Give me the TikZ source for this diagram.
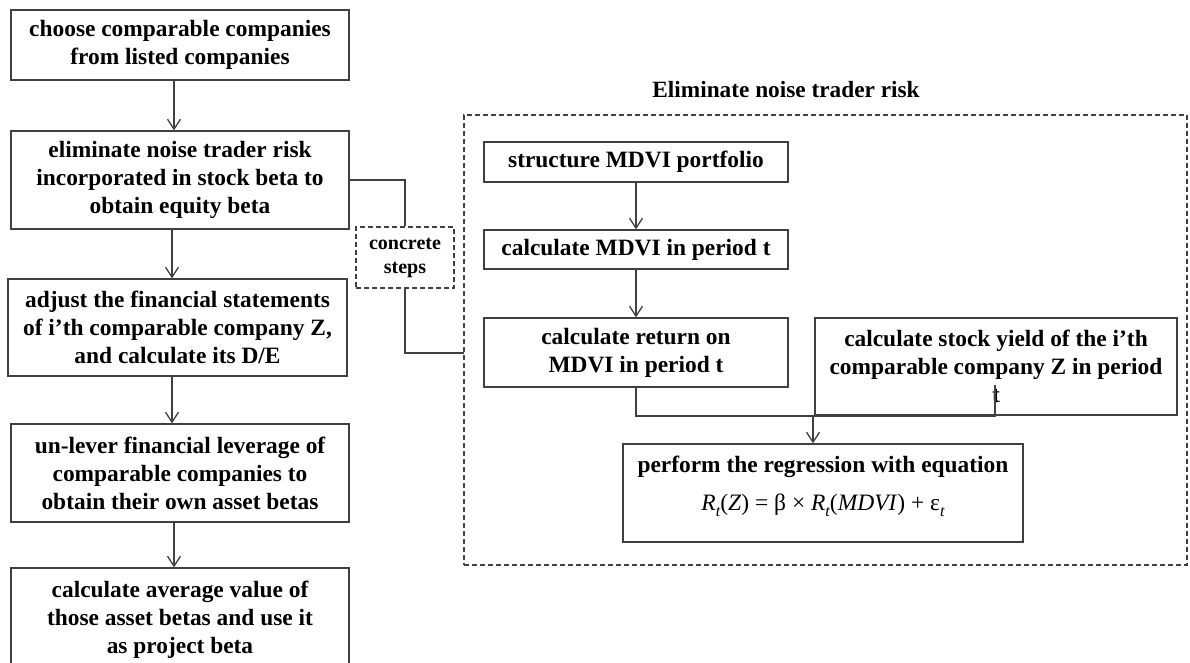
\documentclass[tikz,border=0pt]{standalone}
\usepackage{fontspec}
\setmainfont{Liberation Serif}
\usetikzlibrary{arrows.meta}
\newcommand{\mysubt}{\raisebox{-6pt}{\fontsize{16}{16}\selectfont\itshape t}}
\begin{document}
\begin{tikzpicture}[x=1pt,y=-1pt,
  line/.style={draw=black!75, line width=1.3pt},
  box/.style={line, rectangle, inner sep=0pt, align=center, font=\fontsize{23.4}{28}\selectfont\bfseries},
  dbox/.style={draw=black!75, line width=1.3pt, dash pattern=on 5pt off 3pt, rectangle, inner sep=0pt, align=center},
  arr/.style={line, -{Straight Barb[length=10pt,width=13pt,line width=1.3pt]}},
  conn/.style={line},
]
\useasboundingbox (0,0) rectangle (1190,663);
% left column
\node[box, minimum width=338, minimum height=70] (b1) at (180,45) {choose comparable companies\\from listed companies};
\node[box, minimum width=338, minimum height=98] (b2) at (180,180) {eliminate noise trader risk\\incorporated in stock beta to\\obtain equity beta};
\node[box, minimum width=339, minimum height=97] (b3) at (177.5,327.5) {adjust the financial statements\\of i’th comparable company Z,\\and calculate its D/E};
\node[box, minimum width=338, minimum height=98] (b4) at (180,473) {un-lever financial leverage of\\comparable companies to\\obtain their own asset betas};
\node[box, minimum width=338, minimum height=104] (b5) at (180,620) {calculate average value of\\those asset betas and use it\\as project beta};
\draw[arr] ([xshift=-6pt]b1.south) -- ([xshift=-6pt]b1.south |- b2.north);
\draw[arr] ([xshift=-8pt]b2.south) -- ([xshift=-8pt]b2.south |- b3.north);
\draw[arr] ([xshift=-8pt]b4.north |- b3.south) -- ([xshift=-8pt]b4.north);
\draw[arr] ([xshift=-6pt]b4.south) -- ([xshift=-6pt]b5.north);
% concrete steps
\node[dbox, minimum width=98, minimum height=61, font=\fontsize{20}{24}\selectfont\bfseries] (cs) at (405,257.5) {concrete\\steps};
% big dashed frame
\node[dbox, minimum width=723, minimum height=450] (noise) at (825.5,340) {};
\node[font=\fontsize{23.3}{26}\selectfont\bfseries] (ttl) at (786,90) {Eliminate noise trader risk};
\coordinate (cin) at (464,353);
\draw[conn] (b2.east) -| (cs.north);
\draw[conn] (cs.south) |- (cin);
% right boxes
\node[box, minimum width=304, minimum height=40] (st) at (636,162) {structure MDVI portfolio};
\node[box, minimum width=304, minimum height=39] (cm) at (636,249.5) {calculate MDVI in period t};
\node[box, minimum width=304, minimum height=69] (ret) at (636,352.5) {calculate return on\\MDVI in period t};
\node[box, minimum width=362, minimum height=97] (yld) at (996,366.5) {calculate stock yield of the i’th\\comparable company Z in period\\t};
\node[box, minimum width=400, minimum height=98] (reg) at (823,493) {};
\node[align=center, font=\fontsize{23.4}{28}\selectfont\bfseries] (regt) at ([yshift=7pt]reg.center)
  {perform the regression with equation\\[10pt]
   {\normalfont\fontsize{23.5}{26}\selectfont\textit{R}\mysubt(\textit{Z}) = β × \textit{R}\mysubt(\textit{MDVI}) + ε\mysubt}};
\draw[arr] (st.south) -- (cm.north);
\draw[arr] (cm.south) -- (ret.north);
\coordinate (jb) at (995,416);
\coordinate (jt) at (995,385);
\coordinate (ja) at (813,416);
\draw[conn] (ret.south) |- (jb) -- (jt);
\draw[arr] (ja) -- (ja |- reg.north);
\end{tikzpicture}
\end{document}
